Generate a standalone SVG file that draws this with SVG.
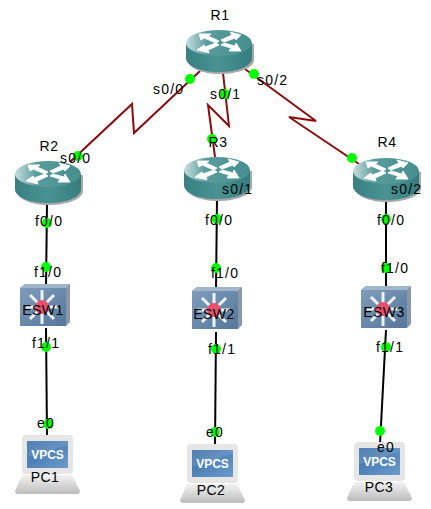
<svg xmlns="http://www.w3.org/2000/svg" width="431" height="509" viewBox="0 0 431 509">
<style>
text{font-family:"Liberation Sans",Arial,sans-serif;font-size:14px;letter-spacing:1.2px;fill:#000}
.name text{letter-spacing:.5px}
.ser{fill:none;stroke:#8a0c0c;stroke-width:2}
.eth{fill:none;stroke:#000;stroke-width:2}
.dot{fill:#0f0}
</style>
<defs>
<linearGradient id="top" x1="0" y1="0" x2="1" y2="0"><stop offset="0" stop-color="#c8dede"/><stop offset=".32" stop-color="#5a9c9c"/><stop offset="1" stop-color="#468f8f"/></linearGradient>
<linearGradient id="side" x1="0" y1="0" x2="1" y2="0"><stop offset="0" stop-color="#3a8082"/><stop offset=".5" stop-color="#4a9294"/><stop offset="1" stop-color="#357c7e"/></linearGradient>
<linearGradient id="scr" x1="0" y1="0" x2="1" y2="1"><stop offset="0" stop-color="#3a6ea8"/><stop offset="1" stop-color="#6a9bcb"/></linearGradient>
<linearGradient id="base" x1="0" y1="0" x2="0" y2="1"><stop offset="0" stop-color="#f2f2f2"/><stop offset="1" stop-color="#bdbdbd"/></linearGradient>
<linearGradient id="front" x1="0" y1="0" x2="1" y2="1"><stop offset="0" stop-color="#7f9cbb"/><stop offset="1" stop-color="#55779b"/></linearGradient>
<g id="router">
<path d="M2 14V30C2 38 16 44 34 44S68 38 68 30V14Z" fill="#a8a8a8"/>
<path d="M0 13V28C0 36 14 42 33 42S66 36 66 28V13Z" fill="url(#side)"/>
<ellipse cx="33" cy="13" rx="33" ry="13" fill="url(#top)"/>
<g fill="#fff" stroke="#fff" stroke-width=".9">
<path d="M13 4H25L22 6L33 11L30 13L18 8L15 10Z"/>
<path d="M55 5L44 2L46 5L35 10L38 12L49 8L50 10Z"/>
<path d="M11 20L23 23L22 20L33 15L30 13L19 17L18 15Z"/>
<path d="M55 21H43L45 18L35 15L38 13L49 16L50 13Z"/>
</g>
</g>
<g id="switch">
<path d="M0 4L5 0H50V38L46 42H0Z" fill="#8a97a6"/>
<path d="M0 4L5 0H50L46 4Z" fill="#a2b6cb"/>
<rect x="0" y="4" width="46" height="38" rx="1" fill="url(#front)"/>
<g stroke="#eef2f6" stroke-width="3">
<path d="M22 6V40M6 23H38M10 11L34 35M34 11L10 35"/>
</g>
<circle cx="22" cy="23" r="7" fill="#e8506e"/>
</g>
<g id="pc">
<path d="M7 40H57L65 56Q65 59 62 59H3Q0 59 0 56Z" fill="url(#base)"/>
<rect x="7" y="0" width="51" height="39" rx="4" fill="#e6e6e6"/>
<rect x="12" y="6" width="41" height="27" fill="url(#scr)"/>
<path d="M12 6H53V10Q40 12 34 18L12 22Z" fill="#fff" opacity=".12"/>
<text x="32.500" y="24" text-anchor="middle" style="font-size:12px;font-weight:bold;letter-spacing:0;fill:#fff">VPCS</text>
</g>
</defs>
<g id="connectors">
<polyline class="ser" points="200,71 134,133 132,104 70,162"/>
<polyline class="ser" points="223,73 229,126 208,105 215,157"/>
<polyline class="ser" points="245,69 316,121 289,117 362,166"/>
<line class="eth" x1="47" y1="203" x2="46" y2="288"/>
<line class="eth" x1="217" y1="198" x2="216" y2="290"/>
<line class="eth" x1="386" y1="199" x2="386" y2="290"/>
<line class="eth" x1="46" y1="328" x2="47" y2="436"/>
<line class="eth" x1="216" y1="332" x2="215" y2="446"/>
<line class="eth" x1="386" y1="330" x2="380" y2="444"/>
</g>
<g id="endpoints">
<circle class="dot" cx="190" cy="79" r="5"/><circle class="dot" cx="225" cy="94" r="5"/><circle class="dot" cx="254" cy="74" r="5"/>
<circle class="dot" cx="78" cy="156" r="5"/><circle class="dot" cx="212" cy="139" r="5"/><circle class="dot" cx="352" cy="158" r="5"/>
<circle class="dot" cx="47" cy="223" r="5"/><circle class="dot" cx="217" cy="219" r="5"/><circle class="dot" cx="386" cy="219" r="5"/>
<circle class="dot" cx="46" cy="267" r="5"/><circle class="dot" cx="216" cy="268" r="5"/><circle class="dot" cx="386" cy="268" r="5"/>
<circle class="dot" cx="46" cy="347" r="5"/><circle class="dot" cx="216" cy="349" r="5"/><circle class="dot" cx="386" cy="347" r="5"/>
<circle class="dot" cx="48" cy="424" r="5"/><circle class="dot" cx="215" cy="432" r="5"/><circle class="dot" cx="380" cy="431" r="5"/>
</g>
<g id="R1" class="name"><use href="#router" x="186" y="30"/><text x="220" y="20" text-anchor="middle">R1</text></g>
<g id="R2" class="name"><use href="#router" x="15" y="161"/><text x="49" y="151" text-anchor="middle">R2</text></g>
<g id="R3" class="name"><use href="#router" x="184" y="157"/><text x="218" y="147" text-anchor="middle">R3</text></g>
<g id="R4" class="name"><use href="#router" x="353" y="158"/><text x="387" y="147" text-anchor="middle">R4</text></g>
<g id="ESW1" class="name"><use href="#switch" x="20" y="284"/><text x="43" y="315" text-anchor="middle">ESW1</text></g>
<g id="ESW2" class="name"><use href="#switch" x="192" y="287"/><text x="214" y="319" text-anchor="middle">ESW2</text></g>
<g id="ESW3" class="name"><use href="#switch" x="361" y="286"/><text x="384" y="317" text-anchor="middle">ESW3</text></g>
<g id="PC1" class="name"><use href="#pc" x="15" y="435"/><text x="45" y="482" text-anchor="middle">PC1</text></g>
<g id="PC2" class="name"><use href="#pc" x="180" y="444"/><text x="211" y="495" text-anchor="middle">PC2</text></g>
<g id="PC3" class="name"><use href="#pc" x="347" y="442"/><text x="379" y="492" text-anchor="middle">PC3</text></g>
<g id="interfaces">
<text x="153" y="94">s0/0</text><text x="210" y="99">s0/1</text><text x="257" y="85">s0/2</text>
<text x="60" y="163">s0/0</text><text x="222" y="194">s0/1</text><text x="391" y="194">s0/2</text>
<text x="35" y="226">f0/0</text><text x="205" y="225">f0/0</text><text x="377" y="225">f0/0</text>
<text x="34" y="277">f1/0</text><text x="211" y="278">f1/0</text><text x="381" y="273">f1/0</text>
<text x="32" y="348">f1/1</text><text x="208" y="354">f1/1</text><text x="376" y="352">f1/1</text>
<text x="37" y="428">e0</text><text x="206" y="437">e0</text><text x="377" y="452">e0</text>
</g>
</svg>
